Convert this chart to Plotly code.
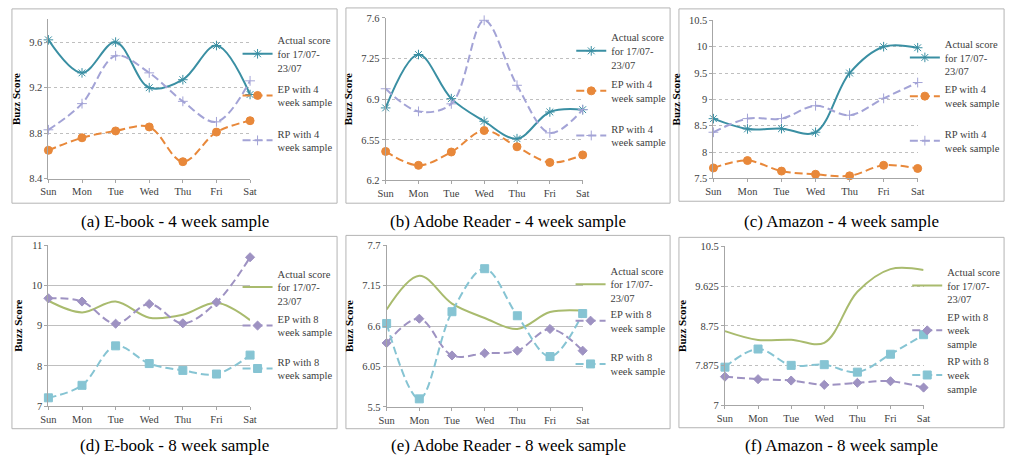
import plotly.graph_objects as go

# ---------------- data ----------------
days = ["Sun", "Mon", "Tue", "Wed", "Thu", "Fri", "Sat"]

ebook_actual = [9.62, 9.33, 9.60, 9.20, 9.27, 9.57, 9.14]
ebook_ep4 = [8.65, 8.76, 8.82, 8.855, 8.55, 8.81, 8.91]
ebook_rp4 = [8.83, 9.06, 9.48, 9.33, 9.08, 8.90, 9.26]
ebook_ep8 = [9.68, 9.60, 9.05, 9.54, 9.06, 9.58, 10.70]
ebook_rp8 = [7.21, 7.52, 8.50, 8.06, 7.89, 7.80, 8.27]

adobe_actual = [6.825, 7.285, 6.905, 6.71, 6.56, 6.79, 6.81]
adobe_ep4 = [6.45, 6.33, 6.445, 6.63, 6.49, 6.355, 6.42]
adobe_rp4 = [6.99, 6.795, 6.86, 7.58, 7.02, 6.61, 6.81]
adobe_ep8 = [6.37, 6.70, 6.20, 6.23, 6.265, 6.56, 6.265]
adobe_rp8 = [6.635, 5.61, 6.795, 7.38, 6.74, 6.185, 6.77]

amazon_actual = [8.635, 8.44, 8.445, 8.377, 9.50, 10.0, 9.98]
amazon_ep4 = [7.70, 7.84, 7.64, 7.58, 7.55, 7.75, 7.69]
amazon_rp4 = [8.377, 8.636, 8.636, 8.88, 8.70, 9.02, 9.32]
amazon_ep8 = [7.63, 7.575, 7.545, 7.45, 7.495, 7.53, 7.39]
amazon_rp8 = [7.84, 8.24, 7.88, 7.895, 7.73, 8.125, 8.555]

y_ranges = [[8.4, 9.8], [6.2, 7.6], [7.5, 10.5], [7, 11], [5.5, 7.7], [7, 10.5]]
y_ticks = [[8.4, 8.8, 9.2, 9.6], [6.2, 6.55, 6.9, 7.25, 7.6],
           [7.5, 8, 8.5, 9, 9.5, 10, 10.5], [7, 8, 9, 10, 11],
           [5.5, 6.05, 6.6, 7.15, 7.7], [7, 7.875, 8.75, 9.625, 10.5]]
y_ticktext = [["8.4", "8.8", "9.2", "9.6"],
              ["6.2", "6.55", "6.9", "7.25", "7.6"],
              ["7.5", "8", "8.5", "9", "9.5", "10", "10.5"],
              ["7", "8", "9", "10", "11"],
              ["5.5", "6.05", "6.6", "7.15", "7.7"],
              ["7", "7.875", "8.75", "9.625", "10.5"]]

captions = ["(a) E-book - 4 week sample", "(b) Adobe Reader - 4 week sample",
            "(c) Amazon - 4 week sample", "(d) E-book - 8 week sample",
            "(e) Adobe Reader - 8 week sample", "(f) Amazon - 8 week sample"]

actual_name = "Actual score<br>for 17/07-<br>23/07"
names4 = [actual_name, "EP with 4<br>week sample", "RP with 4<br>week sample"]
names8 = [actual_name, "EP with 8<br>week sample", "RP with 8<br>week sample"]
names8f = [actual_name, "EP with 8<br>week<br>sample", "RP with 8<br>week<br>sample"]

panels = [
    [ebook_actual, ebook_ep4, ebook_rp4],
    [adobe_actual, adobe_ep4, adobe_rp4],
    [amazon_actual, amazon_ep4, amazon_rp4],
    [ebook_actual, ebook_ep8, ebook_rp8],
    [adobe_actual, adobe_ep8, adobe_rp8],
    [amazon_actual, amazon_ep8, amazon_rp8],
]
panel_names = [names4, names4, names4, names8, names8, names8f]

# ---------------- layout geometry (pixels) ----------------
W, H = 1016, 464
plot_px = [
    (41, 245.7, 14.7, 178),
    (383.3, 583.3, 13.3, 179.7),
    (716, 923.3, 15.7, 177.7),
    (41, 245.7, 246, 411),
    (384.3, 583.3, 246, 411.7),
    (727.7, 929.3, 247.3, 410),
]
box_px = [
    (4, 334, 4, 203), (343, 672, 3, 203), (681, 1011, 4, 201),
    (4, 334, 237, 434), (343, 672, 236, 434), (681, 1011, 238, 433),
]
legend_text_x = [278, 616.7, 955.3, 278, 616, 957.7]
legend_centers = [
    (50, 93, 139), (47, 88.3, 134), (53.7, 93.7, 139.3),
    (289, 328.7, 372.7), (286, 323.7, 368), (287.3, 333.3, 379),
]
caption_y = [222, 222, 222, 451, 451, 451]
gridstyle = ["dot", "dot", "dot", "solid", "solid", "dot"]

top_styles = [
    dict(color="#3A8FA3", dash="solid", symbol="asterisk-open", size=8, mfill="#3A8FA3"),
    dict(color="#E8883A", dash="8px,4px", symbol="circle", size=8, mfill="#E8883A"),
    dict(color="#A3A3D6", dash="8px,4px", symbol="cross-thin-open", size=7, mfill="#A3A3D6"),
]
bot_styles = [
    dict(color="#A9BB6E", dash="solid", symbol=None, size=0, mfill="#A9BB6E"),
    dict(color="#9E92C2", dash="8px,4px", symbol="diamond", size=7, mfill="#9E92C2"),
    dict(color="#86C4D3", dash="8px,4px", symbol="square", size=8, mfill="#86C4D3"),
]

FONT = "Liberation Serif, Times New Roman, DejaVu Serif, serif"
TXT = "#404040"

fig = go.Figure()
layout = dict(
    width=W, height=H, margin=dict(l=0, r=0, t=0, b=0),
    paper_bgcolor="white", plot_bgcolor="white",
    font=dict(family=FONT, size=10.5, color=TXT),
)
shapes = []
annotations = []

legend_idx = 0
for p in range(6):
    xl, xr, yt, yb = plot_px[p]
    ax = "" if p == 0 else str(p + 1)
    layout["xaxis" + ax] = dict(
        domain=[xl / W, xr / W], anchor="y" + ax, type="category",
        range=[0, 6], showgrid=False, showline=True, linecolor="#A6A6A6",
        linewidth=1, ticks="outside", ticklen=3, tickcolor="#A6A6A6",
        tickfont=dict(family=FONT, size=10.5, color=TXT), zeroline=False,
        fixedrange=True,
    )
    layout["yaxis" + ax] = dict(
        domain=[1 - yb / H, 1 - yt / H], anchor="x" + ax,
        range=y_ranges[p], tickvals=y_ticks[p], ticktext=y_ticktext[p],
        showgrid=True, gridcolor="#BFBFBF", griddash=gridstyle[p], gridwidth=1,
        showline=True, linecolor="#A6A6A6", linewidth=1, ticks="outside",
        ticklen=3, tickcolor="#A6A6A6", zeroline=False,
        tickfont=dict(family=FONT, size=10.5, color=TXT),
        title=dict(text="<b>Buzz Score</b>", standoff=6,
                   font=dict(family=FONT, size=11, color="#000000")),
        fixedrange=True,
    )
    styles = top_styles if p < 3 else bot_styles
    for s in range(3):
        st = styles[s]
        legend_idx += 1
        lg = "legend" if legend_idx == 1 else "legend%d" % legend_idx
        marker = dict(size=st["size"], color=st["mfill"],
                      line=dict(color=st["color"], width=1))
        if st["symbol"]:
            marker["symbol"] = st["symbol"]
            mode = "lines+markers"
        else:
            mode = "lines"
        fig.add_trace(go.Scatter(
            x=days, y=panels[p][s], name=panel_names[p][s],
            mode=mode, line=dict(color=st["color"], width=2, dash=st["dash"],
                                 shape="spline", smoothing=1),
            marker=marker, xaxis="x" + ax, yaxis="y" + ax,
            legend=lg, cliponaxis=False, showlegend=True,
        ))
        layout[lg] = dict(
            x=(legend_text_x[p] - 45) / W, xanchor="left",
            y=1 - legend_centers[p][s] / H, yanchor="middle",
            bgcolor="rgba(0,0,0,0)", borderwidth=0,
            font=dict(family=FONT, size=10.5, color=TXT),
            tracegroupgap=0, itemclick=False, itemdoubleclick=False,
        )
    bx0, bx1, by0, by1 = box_px[p]
    shapes.append(dict(type="rect", xref="paper", yref="paper",
                       x0=bx0 / W, x1=bx1 / W, y0=1 - by1 / H, y1=1 - by0 / H,
                       line=dict(color="#B4B4B4", width=1), layer="below"))
    annotations.append(dict(
        text=captions[p], xref="paper", yref="paper",
        x=((bx0 + bx1) / 2) / W, y=1 - caption_y[p] / H,
        xanchor="center", yanchor="middle", showarrow=False,
        font=dict(family=FONT, size=17, color="#000000")))

layout["shapes"] = shapes
layout["annotations"] = annotations
fig.update_layout(**layout)
fig.write_html("out.html")
